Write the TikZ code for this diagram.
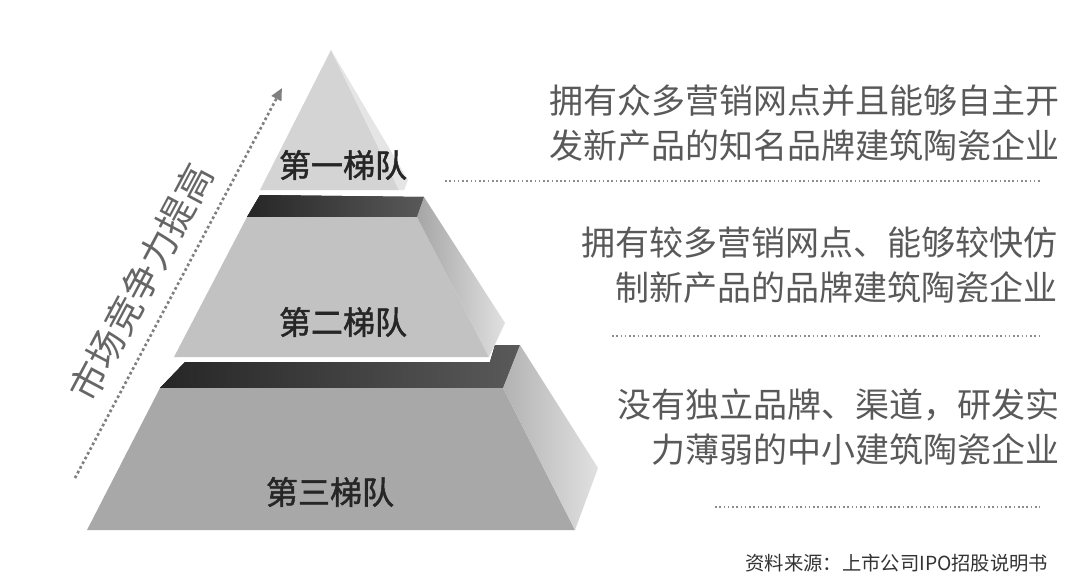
\documentclass[tikz,border=0pt]{standalone}
\usepackage{fontspec}
\newfontfamily\cjk{Noto Sans CJK SC}
\newfontfamily\cjkb[FakeBold=1.6]{Noto Sans CJK SC}
\usetikzlibrary{arrows.meta}
\begin{document}
\begin{tikzpicture}[x=0.75pt,y=-0.75pt,
  tier/.style={font=\cjkb\fontsize{24}{26}\selectfont,text=black!85},
  desc/.style={font=\cjk\fontsize{25.5}{34}\selectfont,text=black!65,align=right,anchor=east},
  sep/.style={dotted,line width=1.2pt,black!45},
  band/.style={left color=black!85,right color=black!65}]
\useasboundingbox[fill=white] (0,0) rectangle (1080,585);
% tier 3
\fill[band] (185,362) -- (490,362) -- (495,345) -- (520,345) -- (503,388) -- (160,388) -- cycle;
\fill[black!34] (160,388) -- (503,388) -- (575,530) -- (87,530) -- cycle;
\shade[left color=black!30,right color=black!12] (520,345) -- (598,468) -- (575,530) -- (503,388) -- cycle;
% tier 2
\fill[band] (260,195) -- (424,197) -- (417,217) -- (247,217) -- cycle;
\fill[black!24] (247,217) -- (417,217) -- (489,357) -- (174,357) -- cycle;
\shade[left color=black!35,right color=black!12] (424,197) -- (505,323) -- (489,357) -- (417,217) -- cycle;
% tier 1
\fill[black!17] (331,50) -- (399,190) -- (260,190) -- cycle;
\fill[black!10] (331,50) -- (408,180) -- (404,190) -- (399,190) -- cycle;
\node[tier] (t1) at (343,165) {第一梯队};
\node[tier] (t2) at (343,322) {第二梯队};
\node[tier] (t3) at (330,492) {第三梯队};
% arrow
\coordinate (a0) at (75,478);
\coordinate (a1) at (282,88);
\draw[black!50,line width=2pt,dotted,-{Triangle[length=9pt,width=8pt]}] (a0) -- (a1);
\node[font=\cjk\fontsize{28}{30}\selectfont,text=black!60,rotate=62] (up) at (141,282) {市场竞争力提高};
% descriptions
\node[desc] (d1) at (1064,123) {拥有众多营销网点并且能够自主开\\发新产品的知名品牌建筑陶瓷企业};
\node[desc] (d2) at (1062,265) {拥有较多营销网点、能够较快仿\\制新产品的品牌建筑陶瓷企业};
\node[desc] (d3) at (1064,427) {没有独立品牌、渠道，研发实\\力薄弱的中小建筑陶瓷企业};
\coordinate (s1a) at (445,181); \coordinate (s1b) at (1040,181);
\coordinate (s2a) at (612,336); \coordinate (s2b) at (1040,336);
\coordinate (s3a) at (715,507); \coordinate (s3b) at (1040,507);
\draw[sep] (s1a) -- (s1b);
\draw[sep] (s2a) -- (s2b);
\draw[sep] (s3a) -- (s3b);
\node[font=\cjk\fontsize{14.5}{16}\selectfont,text=black!80,anchor=east] (src) at (1053,563) {资料来源：上市公司IPO招股说明书};
\end{tikzpicture}
\end{document}
